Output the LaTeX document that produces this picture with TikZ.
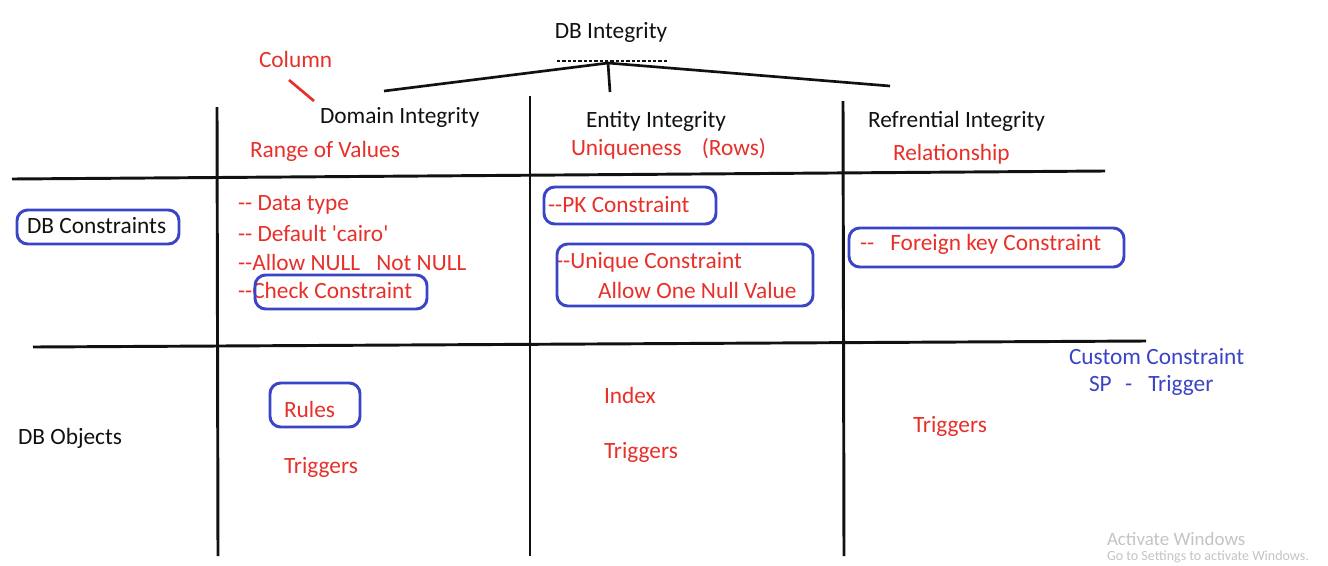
\documentclass[tikz,border=0pt]{standalone}
\usepackage{fontspec}
\setmainfont{Carlito}[Ligatures=TeXOff]
\definecolor{ink}{HTML}{111111}
\definecolor{redink}{HTML}{E8302A}
\definecolor{blueink}{HTML}{3A44C6}
\definecolor{wm}{HTML}{C4C4C4}
\begin{document}
\begin{tikzpicture}[x=0.75pt,y=-0.75pt,
  every node/.style={inner sep=0pt,outer sep=0pt,font=\fontsize{17.5}{20}\selectfont},
  blk/.style={text=ink,anchor=west},
  rd/.style={text=redink,anchor=west},
  bl/.style={text=blueink,anchor=west},
  rule/.style={draw=ink,line width=2.2pt},
  bluebox/.style={draw=blueink,line width=2.2pt,rounded corners=8pt,anchor=north west},
  wmark/.style={text=wm,anchor=west}]
\useasboundingbox (0,0) rectangle (1328,565);
\fill[white] (0,0) rectangle (1328,565);
% tree
\node[text=ink] (top) at (611,32) {DB Integrity};
\coordinate (apex) at (608,63);
\coordinate (lb) at (384,91);
\coordinate (rb) at (890,86);
\coordinate (mb) at (610,92);
\draw[draw=ink,line width=0.8pt,dash pattern=on 2.5pt off 1.5pt] (557,61) -- (668,61);
\draw[rule,line width=2pt] (lb) -- (apex) -- (rb);
\draw[rule,line width=2pt] (apex) -- (mb);
% red slash
\node[rd] (col) at (259,59) {Column};
\draw[draw=redink,line width=2pt] (289,80) -- (314,101);
% grid
\draw[rule] (217,107) -- (218,556);
\draw[rule] (530,96) -- (530,556);
\draw[rule] (843,101) -- (844,556);
\draw[rule] (12,179) -- (1105,171);
\draw[rule] (33,347) -- (1146,341);
% headers
\node[blk] (dom) at (320,117) {Domain Integrity};
\node[rd] (rng) at (250,151) {Range of Values};
\node[blk] (ent) at (586,121) {Entity Integrity};
\node[rd] (uniq) at (571,149) {Uniqueness\hspace{15pt}(Rows)};
\node[blk] (ref) at (868,121) {Refrential Integrity};
\node[rd] (rel) at (893,154) {Relationship};
% row labels
\node[bluebox,minimum width=121.5pt,minimum height=25.5pt] (dbcbox) at (17,210) {};
\node[blk] (dbc) at (27,226) {DB Constraints};
\node[blk] (dbo) at (18,438) {DB Objects};
% domain constraints
\node[rd] (d1) at (238,205) {-- Data type};
\node[rd] (d2) at (238,233) {-- Default 'cairo'};
\node[rd] (d3) at (238,262) {--Allow NULL\hspace{12pt}Not NULL};
\node[rd] (d4) at (238,290) {--Check Constraint};
\node[bluebox,minimum width=129pt,minimum height=25.5pt] (d4box) at (255,275) {};
% entity constraints
\node[rd] (e1) at (548,205) {--PK Constraint};
\node[bluebox,minimum width=129pt,minimum height=27.75pt] (e1box) at (544,187) {};
\node[rd] (e2) at (556,262) {--Unique Constraint};
\node[rd] (e3) at (598,290) {Allow One Null Value};
\node[bluebox,minimum width=192pt,minimum height=46.5pt] (e2box) at (557,244) {};
% referential
\node[rd] (r1) at (860,244) {--\hspace{12pt}Foreign key Constraint};
\node[bluebox,minimum width=206.25pt,minimum height=29.25pt] (r1box) at (849,228) {};
% custom
\node[bl] (cc) at (1069,357) {Custom Constraint};
\node[bl] (sp) at (1089,385) {SP\hspace{10pt}-\hspace{12pt}Trigger};
% objects
\node[bluebox,minimum width=67.5pt,minimum height=33pt] (rulesbox) at (270,383) {};
\node[rd] (rules) at (284,409) {Rules};
\node[rd] (dtrig) at (284,467) {Triggers};
\node[rd] (idx) at (604,395) {Index};
\node[rd] (etrig) at (604,452) {Triggers};
\node[rd] (rtrig) at (913,426) {Triggers};
% watermark
\node[wmark,font=\fontsize{14.2}{16}\selectfont] (act) at (1107,539) {Activate Windows};
\node[wmark,font=\fontsize{10.5}{12}\selectfont] (act2) at (1107,557) {Go to Settings to activate Windows.};
\end{tikzpicture}
\end{document}
